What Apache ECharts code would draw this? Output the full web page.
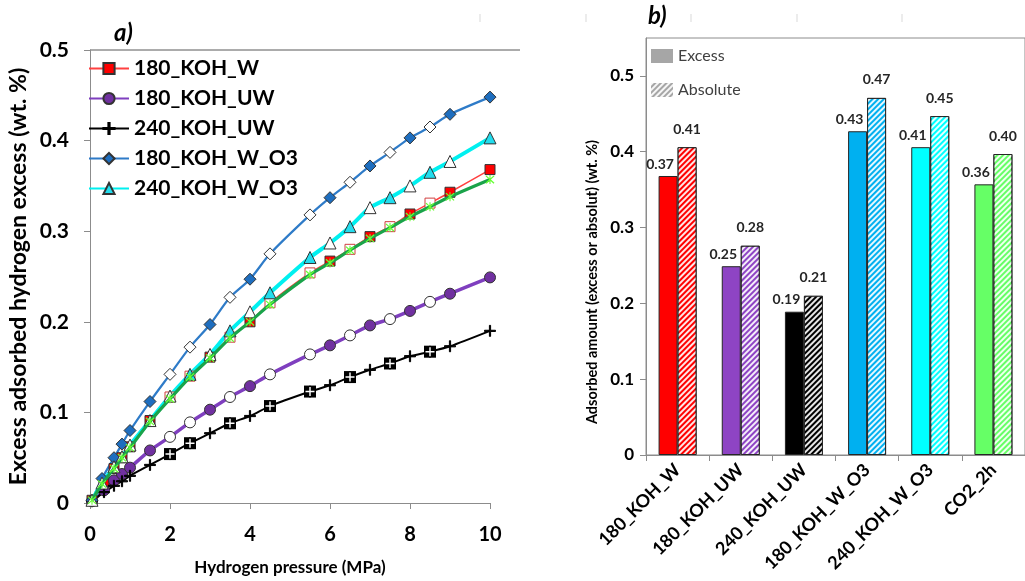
<!DOCTYPE html>
<html><head><meta charset="utf-8">
<script src="https://cdn.jsdelivr.net/npm/echarts@6/dist/echarts.min.js"></script>
<style>html,body{margin:0;padding:0;background:#fff}#c{width:1025px;height:581px}</style>
</head><body><div id="c"></div><script>
// ---------- Panel a) : isotherms (pressure MPa, wt.%) ----------
const w180_fill = [[0.05,0.003],[0.35,0.024],[0.6,0.038],[0.8,0.050],[1,0.062],[1.5,0.091],[3,0.161],[4,0.200],[6,0.267],[7,0.294],[8,0.319],[9,0.343],[10,0.368]];
const w180_open = [[2,0.117],[2.5,0.140],[3.5,0.183],[4.5,0.221],[5.5,0.254],[6.5,0.280],[7.5,0.305],[8.5,0.331]];
const uw180_fill = [[0.05,0.002],[0.35,0.014],[0.6,0.025],[0.8,0.032],[1,0.039],[1.5,0.058],[3,0.103],[4,0.129],[6,0.174],[7,0.196],[8,0.212],[9,0.231],[10,0.249]];
const uw180_open = [[2,0.073],[2.5,0.089],[3.5,0.117],[4.5,0.142],[5.5,0.164],[6.5,0.185],[7.5,0.203],[8.5,0.222]];
const uw240_fill = [[0.05,0.002],[0.35,0.012],[0.6,0.019],[0.8,0.024],[1,0.030],[1.5,0.042],[3,0.077],[4,0.096],[6,0.130],[7,0.147],[8,0.162],[9,0.173],[10,0.190]];
const uw240_open = [[2,0.054],[2.5,0.066],[3.5,0.088],[4.5,0.107],[5.5,0.123],[6.5,0.139],[7.5,0.154],[8.5,0.167]];
const o3w180_fill = [[0.05,0.003],[0.3,0.027],[0.6,0.050],[0.8,0.065],[1,0.080],[1.5,0.112],[3,0.197],[4,0.247],[6,0.337],[7,0.372],[8,0.403],[9,0.429],[10,0.448]];
const o3w180_open = [[2,0.142],[2.5,0.172],[3.5,0.227],[4.5,0.275],[5.5,0.318],[6.5,0.354],[7.5,0.387],[8.5,0.415]];
const o3w240_fill = [[2.5,0.142],[3.5,0.190],[4.5,0.232],[5.5,0.271],[6.5,0.305],[7.5,0.337],[8.5,0.365],[10,0.403]];
const o3w240_open = [[0.05,0.003],[0.3,0.022],[0.6,0.040],[0.8,0.051],[1,0.064],[1.5,0.091],[2,0.118],[3,0.164],[4,0.211],[6,0.287],[7,0.326],[8,0.350],[9,0.377]];
const co2_pts = [[0.05,0.003],[0.3,0.021],[0.6,0.038],[0.8,0.050],[1,0.061],[1.5,0.090],[2,0.115],[2.5,0.139],[3,0.160],[3.5,0.182],[4,0.200],[4.5,0.219],[5.5,0.252],[6,0.265],[6.5,0.279],[7,0.292],[7.5,0.304],[8,0.316],[8.5,0.327],[9,0.338],[10,0.357]];

// ---------- Panel b) : bars ----------
const categories = ['180_KOH_W','180_KOH_UW','240_KOH_UW','180_KOH_W_O3','240_KOH_W_O3','CO2_2h'];
const excessVals = [0.368,0.249,0.189,0.427,0.406,0.357];
const absoluteVals = [0.406,0.276,0.210,0.471,0.447,0.397];
const barColors = ['#FF0000','#8E44C4','#000000','#00B0F0','#00FFFF','#66FF66'];

const FONT = 'Lato';
const PLUS = 'path://M-0.55,-5H0.55V-0.55H5V0.55H0.55V5H-0.55V0.55H-5V-0.55H-0.55Z';
const PLUS_W = 'path://M-0.8,-5H0.8V-0.8H5V0.8H0.8V5H-0.8V0.8H-5V-0.8H-0.8Z';
const STAR = 'path://M-5,-4L-4,-5L0,-1L4,-5L5,-4L1,0L5,4L4,5L0,1L-4,5L-5,4L-1,0ZM-0.6,-5.5H0.6V5.5H-0.6Z';

function merged(fill, open, openStyle){
  const a = fill.map(p => ({value:p}));
  const b = open.map(p => ({value:p, itemStyle:openStyle}));
  return a.concat(b).sort((u,v)=>u.value[0]-v.value[0]);
}
function lineSeries(name, fill, open, opt){
  return {
    name, type:'line', xAxisIndex:0, yAxisIndex:0, smooth:0.25,
    symbol: opt.symbol, symbolSize: opt.size,
    lineStyle:{color:opt.line, width:opt.width},
    itemStyle:{color:opt.fill, borderColor:opt.border, borderWidth:1},
    data: merged(fill, open, opt.openStyle),
    z: opt.z || 2
  };
}

const series = [
  lineSeries('180_KOH_W', w180_fill, w180_open, {symbol:'rect', size:10, line:'#FF4040', width:1.5, fill:'#FF0000', border:'#333', openStyle:{color:'#fff', borderColor:'#D04040'}}),
  lineSeries('180_KOH_UW', uw180_fill, uw180_open, {symbol:'circle', size:11, line:'#7F3FBF', width:3.5, fill:'#7030A0', border:'#333', openStyle:{color:'#fff', borderColor:'#333'}}),
  lineSeries('240_KOH_UW', uw240_fill, uw240_open, {symbol:PLUS, size:11, line:'#000', width:2, fill:'#000', border:'#000', openStyle:{color:'#000', borderColor:'#000'}}),
  lineSeries('180_KOH_W_O3', o3w180_fill, o3w180_open, {symbol:'diamond', size:12, line:'#2E7BC8', width:2.2, fill:'#1E6EBF', border:'#333', openStyle:{color:'#fff', borderColor:'#333'}}),
  lineSeries('240_KOH_W_O3', o3w240_fill, o3w240_open, {symbol:'triangle', size:12, line:'#00F0F0', width:4, fill:'#22DDEE', border:'#333', openStyle:{color:'#fff', borderColor:'#333'}}),
  {name:'CO2_2h', type:'line', xAxisIndex:0, yAxisIndex:0, smooth:0.25, symbol:STAR, symbolSize:9,
   lineStyle:{color:'#1AA34A', width:3.2}, itemStyle:{color:'#66FF33'}, data:co2_pts, z:3},
  // open black markers: black square with white plus
  {name:'240_KOH_UW_open', type:'scatter', xAxisIndex:0, yAxisIndex:0, symbol:'rect', symbolSize:12,
   itemStyle:{color:'#000', opacity:1}, data:uw240_open, z:4},
  {name:'240_KOH_UW_open2', type:'scatter', xAxisIndex:0, yAxisIndex:0, symbol:PLUS_W, symbolSize:9,
   itemStyle:{color:'#fff', opacity:1}, data:uw240_open, z:5},
  // bars
  {name:'Excess', type:'bar', xAxisIndex:1, yAxisIndex:1, barWidth:19, barGap:'0%',
   itemStyle:{color:'#A6A6A6', borderColor:'#262626', borderWidth:1},
   label:{show:true, position:'top', distance:8, offset:[-8,3], fontFamily:FONT, fontWeight:'bold', fontSize:14, color:'#262626', formatter:p=>p.value.toFixed(2)},
   data: excessVals.map((v,i)=>({value:v, itemStyle:{color:barColors[i]}}))},
  {name:'Absolute', type:'bar', xAxisIndex:1, yAxisIndex:1, barWidth:19, barGap:'0%',
   itemStyle:{color:'#A6A6A6', borderColor:'#262626', borderWidth:1,
     decal:{symbol:'rect', symbolSize:1, dashArrayX:[1,0], dashArrayY:[2,2], rotation:-Math.PI/4, color:'rgba(255,255,255,0.9)'}},
   label:{show:true, position:'top', distance:11, fontFamily:FONT, fontWeight:'bold', fontSize:14, color:'#262626', formatter:p=>p.value.toFixed(2)},
   data: absoluteVals.map((v,i)=>({value:v, itemStyle:{color:barColors[i]}}))}
];

const axisLineStyle = {show:true, lineStyle:{color:'#8C8C8C', width:1}};
const tickStyle = {show:true, inside:false, length:6, lineStyle:{color:'#8C8C8C'}};

const option = {
  animation:false,
  backgroundColor:'#fff',
  textStyle:{fontFamily:FONT},
  grid:[
    {left:90, top:50, width:400, height:455, show:false},
    {left:646, top:38, right:-10, height:417, show:true, borderColor:'#8C8C8C', borderWidth:1}
  ],
  xAxis:[
    {gridIndex:0, type:'value', min:0, max:10, interval:2, axisLine:axisLineStyle, axisTick:tickStyle, splitLine:{show:false},
     axisLabel:{fontFamily:FONT, fontWeight:'bold', fontSize:20, color:'#000', margin:22},
     name:'Hydrogen pressure (MPa)', nameLocation:'middle', nameGap:56,
     nameTextStyle:{fontFamily:FONT, fontWeight:'bold', fontSize:17, color:'#000'}},
    {gridIndex:1, type:'category', data:categories, axisLine:axisLineStyle,
     axisTick:{show:true, alignWithLabel:false, length:6, lineStyle:{color:'#8C8C8C'}},
     axisLabel:{interval:0, rotate:45, fontFamily:FONT, fontWeight:'bold', fontSize:18, color:'#000', margin:12}}
  ],
  yAxis:[
    {gridIndex:0, type:'value', min:0, max:0.5, interval:0.1, axisLine:axisLineStyle, axisTick:tickStyle, splitLine:{show:false},
     axisLabel:{fontFamily:FONT, fontWeight:'bold', fontSize:21, color:'#000', margin:21, formatter:v=>v===0?'0':v.toFixed(1)},
     name:'Excess adsorbed hydrogen excess (wt. %)', nameLocation:'middle', nameGap:60, nameRotate:90,
     nameTextStyle:{fontFamily:FONT, fontWeight:'bold', fontSize:23, color:'#000'}},
    {gridIndex:1, type:'value', min:0, max:0.55, interval:0.1, axisLine:axisLineStyle, axisTick:tickStyle, splitLine:{show:false},
     axisLabel:{fontFamily:FONT, fontWeight:'bold', fontSize:17, color:'#000', margin:12, showMaxLabel:false, formatter:v=>v===0?'0':v.toFixed(1)}}
  ],
  legend:[
    {orient:'vertical', left:88, top:57, padding:0, itemWidth:40, itemHeight:14, itemGap:7,
     data:['180_KOH_W','180_KOH_UW','240_KOH_UW','180_KOH_W_O3','240_KOH_W_O3'],
     textStyle:{fontFamily:FONT, fontWeight:'bold', fontSize:21, color:'#000', lineHeight:23}},
    {orient:'vertical', left:651, top:48, padding:0, itemWidth:22, itemHeight:14, itemGap:18, icon:'rect',
     data:['Excess','Absolute'], itemStyle:{borderWidth:0},
     textStyle:{fontFamily:FONT, fontSize:16, color:'#404040'}}
  ],
  graphic:[
    {type:'text', left:114, top:21, style:{text:'a)', font:'italic bold 24px '+FONT, fill:'#000'}},
    {type:'text', left:648, top:4, style:{text:'b)', font:'italic bold 24px '+FONT, fill:'#000'}},
    {type:'text', x:592, y:282, rotation:Math.PI/2, style:{text:'Adsorbed amount (excess or absolut) (wt. %)', font:'bold 14.5px '+FONT, fill:'#000', align:'center', verticalAlign:'middle'}},
    {type:'line', shape:{x1:90,y1:50,x2:520,y2:50}, style:{stroke:'#595959', lineWidth:1}},
    ...[480,586,691,797,902].map(x=>({type:'line', shape:{x1:x,y1:14,x2:x,y2:22}, style:{stroke:'#D9D9D9', lineWidth:1}}))
  ],
  series
};
const chart = echarts.init(document.getElementById('c'), null, {renderer:'canvas'});
chart.setOption(option);
</script></body></html>
